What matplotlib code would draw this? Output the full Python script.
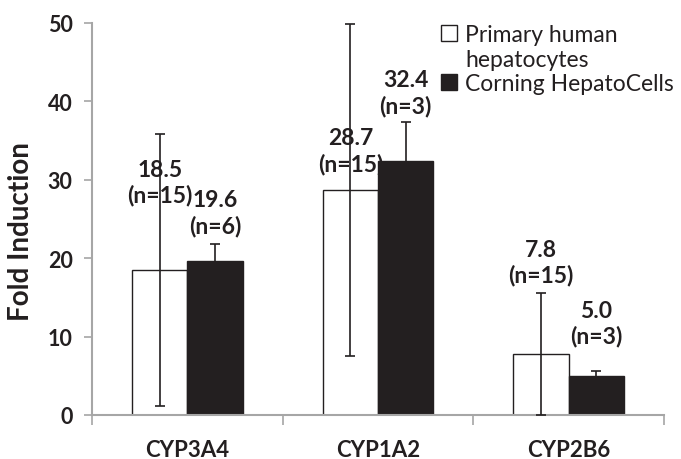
import matplotlib
matplotlib.use("Agg")
import matplotlib.pyplot as plt
from matplotlib.patches import Patch
import numpy as np

categories = ["CYP3A4", "CYP1A2", "CYP2B6"]
primary_vals = [18.5, 28.7, 7.8]
primary_err = [17.3, 21.2, 7.8]
primary_n = [15, 15, 15]
corning_vals = [19.6, 32.4, 5.0]
corning_err = [2.2, 5.0, 0.6]
corning_n = [6, 3, 3]
series_names = ["Primary human hepatocytes", "Corning HepatoCells"]
# vertical centre of each value label (data units)
primary_label_y = [29.7, 33.7, 19.5]
corning_label_y = [25.8, 41.1, 11.7]

plt.rcParams['font.family'] = ['Lato', 'DejaVu Sans']

fig = plt.figure(figsize=(6.81, 4.60), dpi=100)
ax = fig.add_axes([92/681, 44/460, (664-92)/681, (416-24)/460])

x = np.arange(len(categories))
w = 0.29
dark = '#231f20'
gray = '#a6a6a6'

ax.bar(x - w/2, primary_vals, w, color='white', edgecolor=dark, linewidth=1.0, zorder=2)
ax.bar(x + w/2, corning_vals, w, color=dark, edgecolor=dark, linewidth=1.0, zorder=2)
ax.errorbar(x - w/2, primary_vals, yerr=primary_err, fmt='none', ecolor=dark,
            elinewidth=1.2, capsize=3.4, capthick=1.2, zorder=3)
ax.errorbar(x + w/2, corning_vals, yerr=corning_err, fmt='none', ecolor=dark,
            elinewidth=1.2, capsize=3.4, capthick=1.2, zorder=3)

for xi, v, n, ly in zip(x - w/2, primary_vals, primary_n, primary_label_y):
    ax.text(xi, ly, f"{v:.1f}\n(n={n})", ha='center', va='center', fontsize=16.5,
            fontweight='bold', color=dark, linespacing=1.25, zorder=4)
for xi, v, n, ly in zip(x + w/2, corning_vals, corning_n, corning_label_y):
    ax.text(xi, ly, f"{v:.1f}\n(n={n})", ha='center', va='center', fontsize=16.5,
            fontweight='bold', color=dark, linespacing=1.25, zorder=4)

ax.set_xlim(-0.5, 2.5)
ax.set_ylim(0, 50)
ax.set_yticks([0, 10, 20, 30, 40, 50])
ax.set_xticks(x)
ax.set_xticklabels(categories)
ax.set_xticks([-0.5, 0.5, 1.5, 2.5], minor=True)
ax.tick_params(axis='x', which='major', length=0, pad=17, labelsize=16, labelcolor=dark)
ax.tick_params(axis='x', which='minor', length=7, width=1.2, color=gray, direction='out')
ax.tick_params(axis='y', length=6, width=1.2, color=gray, direction='out', labelsize=15.5,
               labelcolor=dark, pad=8)
for lbl in ax.get_xticklabels() + ax.get_yticklabels():
    lbl.set_fontweight('bold')

for s in ['top', 'right']:
    ax.spines[s].set_visible(False)
for s in ['left', 'bottom']:
    ax.spines[s].set_color(gray)
    ax.spines[s].set_linewidth(1.5)

ax.set_ylabel("Fold Induction", fontsize=20, fontweight='bold', color=dark)
ax.yaxis.set_label_coords(-0.101, 0.47)

handles = [Patch(facecolor='white', edgecolor=dark, linewidth=1.0),
           Patch(facecolor='none', edgecolor='none'),
           Patch(facecolor=dark, edgecolor=dark)]
labels = ["Primary human", "hepatocytes", "Corning HepatoCells"]
leg = ax.legend(handles, labels, loc='upper left', bbox_to_anchor=(0.594, 1.02),
                frameon=False, fontsize=16.5, handlelength=0.7, handleheight=0.7,
                handletextpad=0.35, labelspacing=0.15, borderaxespad=0)
for t in leg.get_texts():
    t.set_color(dark)

fig.savefig("out.png", dpi=100)
